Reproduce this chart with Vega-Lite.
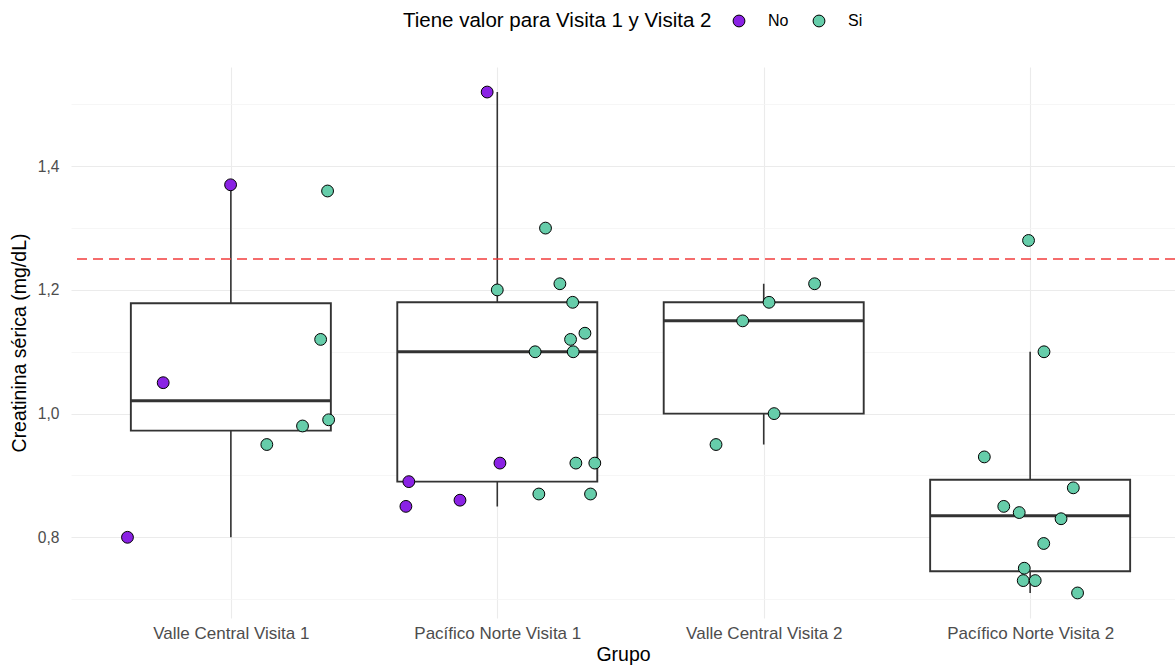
{
  "$schema": "https://vega.github.io/schema/vega-lite/v6.json",
  "autosize": {"type": "none"},
  "padding": {"left": 71, "top": 67, "right": 0, "bottom": 48},
  "width": 1104,
  "height": 551,
  "background": "white",
  "datasets": {
    "puntos": [
      {"grupo": "Valle Central Visita 1", "pos": 0.999, "valor": "No", "creat": 1.37},
      {"grupo": "Valle Central Visita 1", "pos": 1.363, "valor": "Si", "creat": 1.36},
      {"grupo": "Valle Central Visita 1", "pos": 1.337, "valor": "Si", "creat": 1.12},
      {"grupo": "Valle Central Visita 1", "pos": 0.746, "valor": "No", "creat": 1.05},
      {"grupo": "Valle Central Visita 1", "pos": 1.367, "valor": "Si", "creat": 0.99},
      {"grupo": "Valle Central Visita 1", "pos": 1.269, "valor": "Si", "creat": 0.98},
      {"grupo": "Valle Central Visita 1", "pos": 1.135, "valor": "Si", "creat": 0.95},
      {"grupo": "Valle Central Visita 1", "pos": 0.612, "valor": "No", "creat": 0.80},
      {"grupo": "Pacífico Norte Visita 1", "pos": 1.962, "valor": "No", "creat": 1.52},
      {"grupo": "Pacífico Norte Visita 1", "pos": 2.181, "valor": "Si", "creat": 1.30},
      {"grupo": "Pacífico Norte Visita 1", "pos": 2.235, "valor": "Si", "creat": 1.21},
      {"grupo": "Pacífico Norte Visita 1", "pos": 2.000, "valor": "Si", "creat": 1.20},
      {"grupo": "Pacífico Norte Visita 1", "pos": 2.283, "valor": "Si", "creat": 1.18},
      {"grupo": "Pacífico Norte Visita 1", "pos": 2.329, "valor": "Si", "creat": 1.13},
      {"grupo": "Pacífico Norte Visita 1", "pos": 2.275, "valor": "Si", "creat": 1.12},
      {"grupo": "Pacífico Norte Visita 1", "pos": 2.142, "valor": "Si", "creat": 1.10},
      {"grupo": "Pacífico Norte Visita 1", "pos": 2.285, "valor": "Si", "creat": 1.10},
      {"grupo": "Pacífico Norte Visita 1", "pos": 2.010, "valor": "No", "creat": 0.92},
      {"grupo": "Pacífico Norte Visita 1", "pos": 2.295, "valor": "Si", "creat": 0.92},
      {"grupo": "Pacífico Norte Visita 1", "pos": 2.366, "valor": "Si", "creat": 0.92},
      {"grupo": "Pacífico Norte Visita 1", "pos": 1.668, "valor": "No", "creat": 0.89},
      {"grupo": "Pacífico Norte Visita 1", "pos": 2.156, "valor": "Si", "creat": 0.87},
      {"grupo": "Pacífico Norte Visita 1", "pos": 2.350, "valor": "Si", "creat": 0.87},
      {"grupo": "Pacífico Norte Visita 1", "pos": 1.860, "valor": "No", "creat": 0.86},
      {"grupo": "Pacífico Norte Visita 1", "pos": 1.657, "valor": "No", "creat": 0.85},
      {"grupo": "Valle Central Visita 2", "pos": 3.191, "valor": "Si", "creat": 1.21},
      {"grupo": "Valle Central Visita 2", "pos": 3.020, "valor": "Si", "creat": 1.18},
      {"grupo": "Valle Central Visita 2", "pos": 2.921, "valor": "Si", "creat": 1.15},
      {"grupo": "Valle Central Visita 2", "pos": 3.039, "valor": "Si", "creat": 1.00},
      {"grupo": "Valle Central Visita 2", "pos": 2.821, "valor": "Si", "creat": 0.95},
      {"grupo": "Pacífico Norte Visita 2", "pos": 3.994, "valor": "Si", "creat": 1.28},
      {"grupo": "Pacífico Norte Visita 2", "pos": 4.052, "valor": "Si", "creat": 1.10},
      {"grupo": "Pacífico Norte Visita 2", "pos": 3.828, "valor": "Si", "creat": 0.93},
      {"grupo": "Pacífico Norte Visita 2", "pos": 4.162, "valor": "Si", "creat": 0.88},
      {"grupo": "Pacífico Norte Visita 2", "pos": 3.901, "valor": "Si", "creat": 0.85},
      {"grupo": "Pacífico Norte Visita 2", "pos": 3.959, "valor": "Si", "creat": 0.84},
      {"grupo": "Pacífico Norte Visita 2", "pos": 4.116, "valor": "Si", "creat": 0.83},
      {"grupo": "Pacífico Norte Visita 2", "pos": 4.051, "valor": "Si", "creat": 0.79},
      {"grupo": "Pacífico Norte Visita 2", "pos": 3.978, "valor": "Si", "creat": 0.75},
      {"grupo": "Pacífico Norte Visita 2", "pos": 3.974, "valor": "Si", "creat": 0.73},
      {"grupo": "Pacífico Norte Visita 2", "pos": 4.019, "valor": "Si", "creat": 0.73},
      {"grupo": "Pacífico Norte Visita 2", "pos": 4.178, "valor": "Si", "creat": 0.71}
    ],
    "cajas": [
      {"grupo": "Valle Central Visita 1", "g": 1, "minimo": 0.80, "q1": 0.9725, "mediana": 1.021, "q3": 1.1785, "maximo": 1.37},
      {"grupo": "Pacífico Norte Visita 1", "g": 2, "minimo": 0.85, "q1": 0.89, "mediana": 1.10, "q3": 1.18, "maximo": 1.52},
      {"grupo": "Valle Central Visita 2", "g": 3, "minimo": 0.95, "q1": 1.00, "mediana": 1.15, "q3": 1.18, "maximo": 1.21},
      {"grupo": "Pacífico Norte Visita 2", "g": 4, "minimo": 0.71, "q1": 0.745, "mediana": 0.835, "q3": 0.893, "maximo": 1.10}
    ],
    "umbral": [{"valor": 1.25}]
  },
  "layer": [
    {
      "data": {"name": "puntos"},
      "mark": {"type": "point", "opacity": 0},
      "encoding": {
        "x": {
          "field": "pos", "type": "quantitative", "title": "Grupo",
          "scale": {"domain": [0.4, 4.5437], "nice": false, "zero": false, "padding": 0},
          "axis": {
            "title": "Grupo",
            "values": [1, 2, 3, 4],
            "labelExpr": "datum.value == 1 ? 'Valle Central Visita 1' : datum.value == 2 ? 'Pacífico Norte Visita 1' : datum.value == 3 ? 'Valle Central Visita 2' : 'Pacífico Norte Visita 2'",
            "labelOverlap": false,
            "labelFlush": false
          }
        },
        "y": {
          "field": "creat", "type": "quantitative", "title": "Creatinina sérica (mg/dL)",
          "scale": {"domain": [0.6695, 1.5605], "nice": false, "zero": false, "padding": 0},
          "axis": {
            "title": "Creatinina sérica (mg/dL)",
            "values": [0.7, 0.8, 0.9, 1.0, 1.1, 1.2, 1.3, 1.4, 1.5],
            "labelExpr": "round(datum.value * 10) % 2 == 0 ? replace(format(datum.value, '.1f'), '.', ',') : ''",
            "gridColor": {"condition": {"test": "round(datum.value * 10) % 2 == 0", "value": "#EBEBEB"}, "value": "#F4F4F4"},
            "gridWidth": {"condition": {"test": "round(datum.value * 10) % 2 == 0", "value": 1.1}, "value": 0.8}
          }
        }
      }
    },
    {
      "data": {"name": "cajas"},
      "mark": {"type": "rule", "color": "#333333", "strokeWidth": 1.6},
      "encoding": {
        "x": {"field": "g", "type": "quantitative", "title": "Grupo"},
        "y": {"field": "minimo", "type": "quantitative", "title": "Creatinina sérica (mg/dL)"},
        "y2": {"field": "maximo"}
      }
    },
    {
      "data": {"name": "cajas"},
      "mark": {"type": "bar", "orient": "vertical", "size": 200, "fill": "white", "stroke": "#333333", "strokeWidth": 1.9},
      "encoding": {
        "x": {"field": "g", "type": "quantitative", "title": "Grupo"},
        "y": {"field": "q1", "type": "quantitative", "title": "Creatinina sérica (mg/dL)"},
        "y2": {"field": "q3"}
      }
    },
    {
      "data": {"name": "cajas"},
      "mark": {"type": "tick", "orient": "horizontal", "size": 200, "thickness": 3, "color": "#333333", "opacity": 1},
      "encoding": {
        "x": {"field": "g", "type": "quantitative", "title": "Grupo"},
        "y": {"field": "mediana", "type": "quantitative", "title": "Creatinina sérica (mg/dL)"}
      }
    },
    {
      "data": {"name": "umbral"},
      "mark": {"type": "rule", "color": "#F23D3D", "strokeWidth": 1.5, "strokeDash": [10, 6]},
      "encoding": {
        "y": {"field": "valor", "type": "quantitative", "title": "Creatinina sérica (mg/dL)"}
      }
    },
    {
      "data": {"name": "puntos"},
      "mark": {"type": "point", "shape": "circle", "filled": true, "size": 140, "stroke": "black", "strokeWidth": 1, "opacity": 1},
      "encoding": {
        "x": {"field": "pos", "type": "quantitative", "title": "Grupo"},
        "y": {"field": "creat", "type": "quantitative", "title": "Creatinina sérica (mg/dL)"},
        "color": {
          "field": "valor", "type": "nominal",
          "scale": {"domain": ["No", "Si"], "range": ["#8A22E4", "#66CDAA"]},
          "legend": {
            "title": "Tiene valor para Visita 1 y Visita 2",
            "orient": "none",
            "legendX": 332,
            "legendY": -54,
            "direction": "horizontal",
            "titleOrient": "left"
          }
        }
      }
    }
  ],
  "config": {
    "view": {"stroke": null},
    "font": "Liberation Sans",
    "axis": {
      "domain": false,
      "ticks": false,
      "tickSize": 0,
      "grid": true,
      "gridColor": "#EBEBEB",
      "gridWidth": 1.1,
      "labelFont": "Liberation Sans",
      "labelFontSize": 15.6,
      "labelColor": "#4D4D4D",
      "titleFont": "Liberation Sans",
      "titleFontSize": 19.5,
      "titleFontWeight": "normal",
      "titleColor": "black"
    },
    "axisX": {"labelPadding": 7, "titlePadding": 4, "labelFontSize": 17},
    "axisY": {"labelPadding": 12, "titlePadding": 8},
    "legend": {
      "padding": 0,
      "titleFont": "Liberation Sans",
      "titleFontSize": 20.5,
      "titleFontWeight": "normal",
      "titleColor": "black",
      "titleLimit": 600,
      "titlePadding": 19,
      "titleBaseline": "middle",
      "labelFont": "Liberation Sans",
      "labelFontSize": 16,
      "labelColor": "black",
      "labelOffset": 21,
      "columnPadding": 22,
      "symbolType": "circle",
      "symbolSize": 140,
      "symbolStrokeColor": "black",
      "symbolStrokeWidth": 1,
      "symbolOpacity": 1
    }
  }
}
